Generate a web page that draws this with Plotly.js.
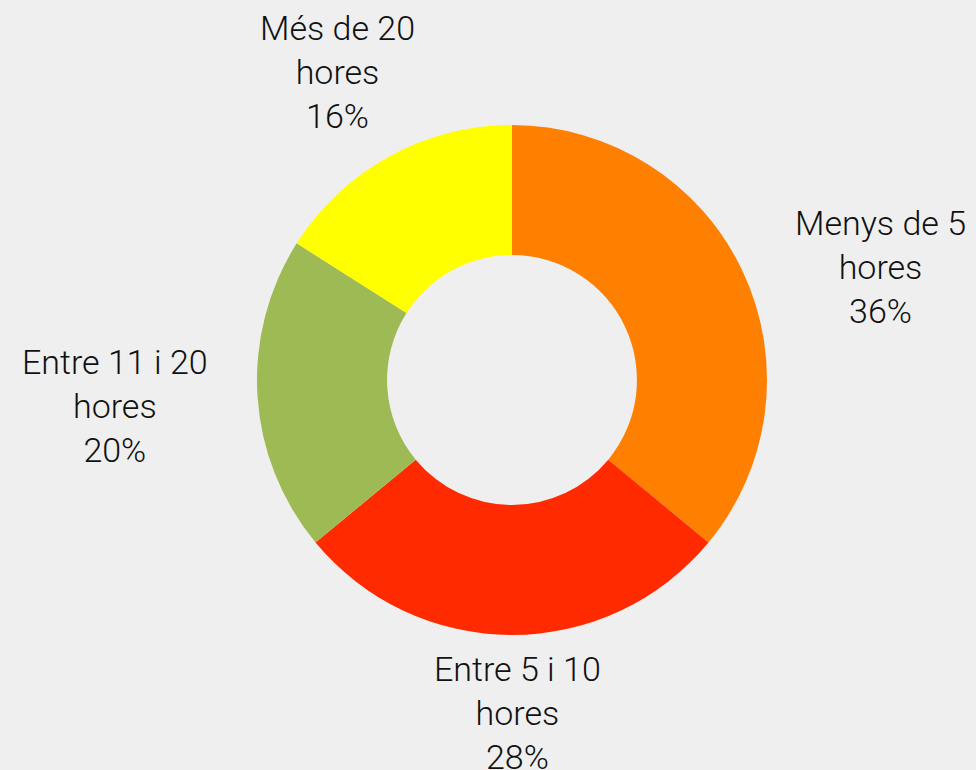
<!DOCTYPE html>
<html>
<head>
<meta charset="utf-8">
<script src="https://cdn.plot.ly/plotly-3.0.1.min.js"></script>
<style>
  html, body { margin: 0; padding: 0; background: #EFEFEF; }
  #chart { width: 976px; height: 770px; }
</style>
</head>
<body>
<div id="chart"></div>
<script>
// Data
const categories = ["Menys de 5 hores", "Entre 5 i 10 hores", "Entre 11 i 20 hores", "Més de 20 hores"];
const labelLines = ["Menys de 5<br>hores", "Entre 5 i 10<br>hores", "Entre 11 i 20<br>hores", "Més de 20<br>hores"];
const values = [36, 28, 20, 16];
const colors = ["#FF7F00", "#FF2A00", "#9EBA55", "#FFFF00"];

// label positions (paper coords)
const labelPos = [
  {x: 880 / 976, y: 1 - 267 / 770},
  {x: 517 / 976, y: 1 - 713 / 770},
  {x: 115 / 976, y: 1 - 406 / 770},
  {x: 337 / 976, y: 1 - 72 / 770}
];

const total = values.reduce((a, b) => a + b, 0);
const annotations = values.map((v, i) => ({
  xref: "paper", yref: "paper",
  x: labelPos[i].x, y: labelPos[i].y,
  xanchor: "center", yanchor: "middle",
  text: labelLines[i] + "<br>" + Math.round(v / total * 100) + "%",
  showarrow: false,
  align: "center",
  font: {family: "Roboto, 'Liberation Sans', sans-serif", size: 34, color: "#111111", weight: 300}
}));

const trace = {
  type: "pie",
  labels: categories,
  values: values,
  hole: 0.49,
  sort: false,
  direction: "clockwise",
  rotation: 0,
  marker: {colors: colors, line: {width: 0}},
  textinfo: "none",
  hoverinfo: "label+percent",
  domain: {x: [257 / 976, 767 / 976], y: [1 - 635 / 770, 1 - 125 / 770]}
};

const layout = {
  width: 976, height: 770,
  margin: {l: 0, r: 0, t: 0, b: 0},
  paper_bgcolor: "#EFEFEF",
  plot_bgcolor: "#EFEFEF",
  showlegend: false,
  annotations: annotations
};

Plotly.newPlot("chart", [trace], layout, {displayModeBar: false, staticPlot: true});
</script>
</body>
</html>
